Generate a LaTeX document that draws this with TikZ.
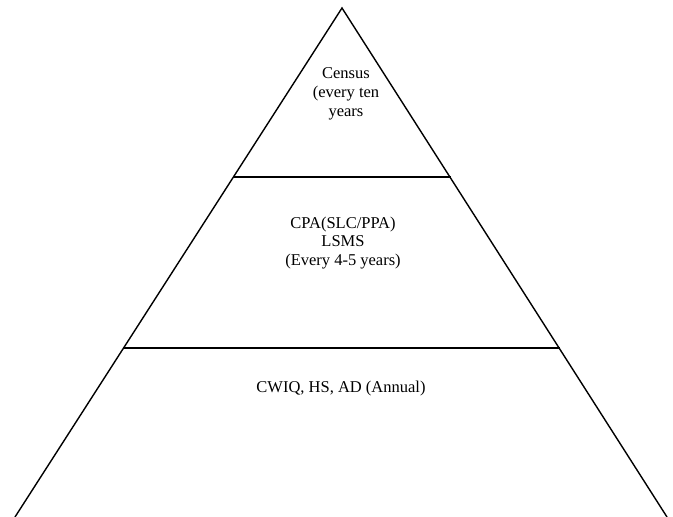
\documentclass[tikz,border=0pt]{standalone}
\usepackage{fontspec}
\setmainfont{Liberation Serif}
\begin{document}
\begin{tikzpicture}[x=1pt,y=-1pt,
  side/.style={line width=1.4pt,black},
  band/.style={line width=2pt,black},
  lbl/.style={align=center,font=\fontsize{16.5}{18.8}\selectfont,inner sep=0pt}]
\useasboundingbox (0,0) rectangle (673,517);
\coordinate (apex) at (342,8);
\coordinate (bl) at (15,517);
\coordinate (br) at (667,517);
\coordinate (l1) at (233.5,177);
\coordinate (r1) at (450.5,177);
\coordinate (l2) at (123.5,348);
\coordinate (r2) at (559.5,348);
\draw[side] (bl) -- (apex) -- (br);
\draw[band] (l1) -- (r1);
\draw[band] (l2) -- (r2);
\node[lbl] (census) at (346,94) {Census\\(every ten\\years};
\node[lbl] (cpa) at (343,243) {CPA(SLC/PPA)\\LSMS\\(Every 4-5 years)};
\node[lbl] (cwiq) at (341,388.5) {CWIQ, HS, AD (Annual)};
\end{tikzpicture}
\end{document}
